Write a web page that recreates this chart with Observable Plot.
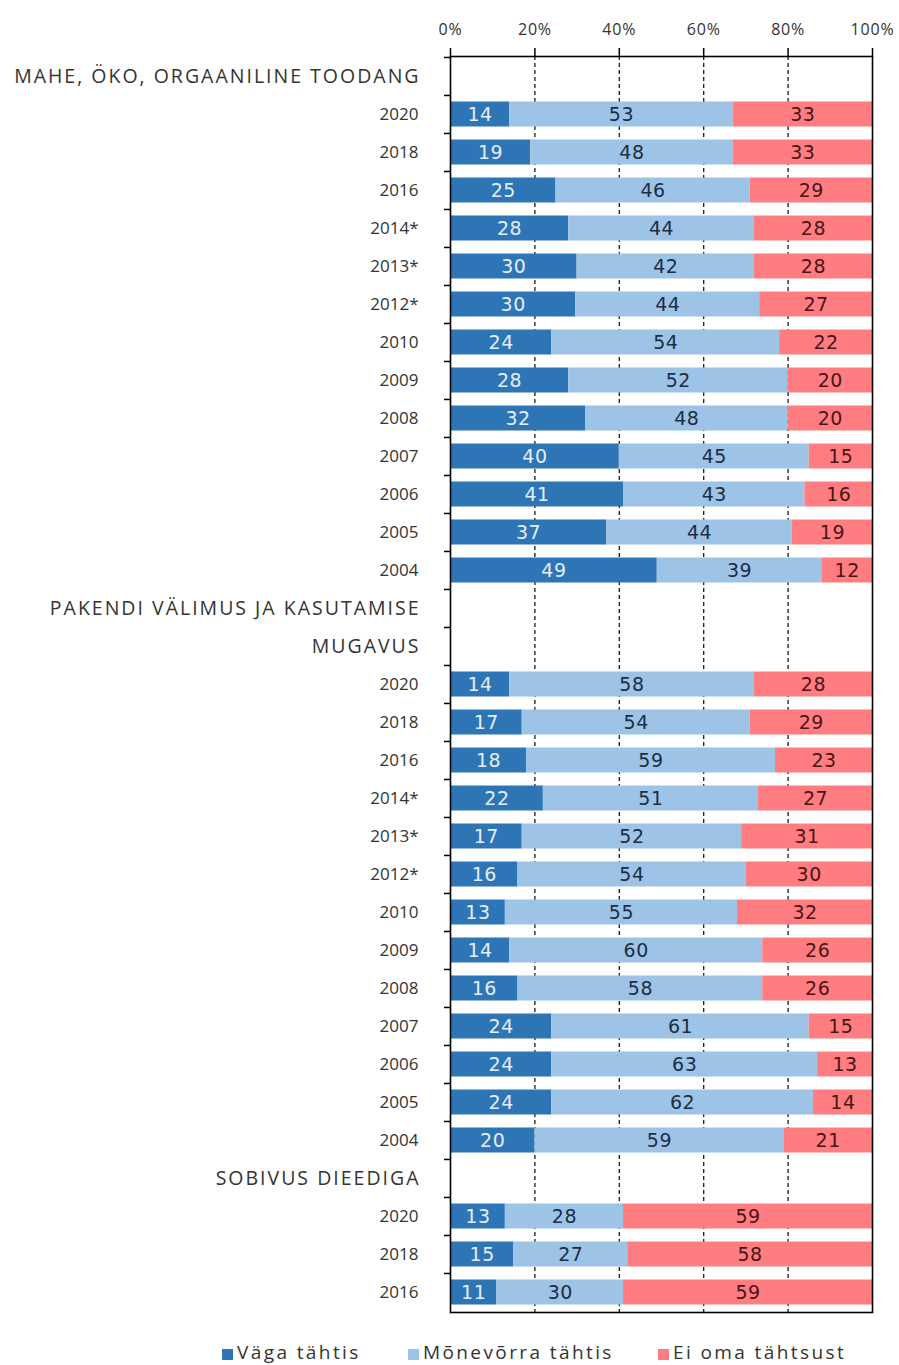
<!DOCTYPE html>
<html>
<head>
<meta charset="utf-8">
<script src="https://cdn.jsdelivr.net/npm/d3@7"></script>
<script src="https://cdn.jsdelivr.net/npm/@observablehq/plot@0.6"></script>
<style>
  body { margin: 0; background: #fff; }
  #chart svg { display: block; }
  .legend { position: relative; height: 35px; margin-top: 5px; font-family: "Open Sans", sans-serif; font-size: 19px; letter-spacing: 2.4px; color: #333; }
  .legend .item { position: absolute; top: 0; line-height: 35px; white-space: nowrap; }
  .legend .sw { display: inline-block; width: 11px; height: 11px; margin-right: 4px; vertical-align: -1px; }
</style>
</head>
<body>
<div id="chart"></div>
<div class="legend" id="legend"></div>
<script>
// ---- data ----
const seriesNames = ["Väga tähtis", "Mõnevõrra tähtis", "Ei oma tähtsust"];
const seriesColors = ["#2E75B6", "#9DC3E6", "#FF7C80"];
const labelColors = ["#e4edf8", "#1c2e44", "#4a1518"];

const xTicks = [0, 0.2, 0.4, 0.6, 0.8, 1];

const maheHeader = ["MAHE, ÖKO, ORGAANILINE TOODANG"];
const maheYears = ["2020", "2018", "2016", "2014*", "2013*", "2012*", "2010", "2009", "2008", "2007", "2006", "2005", "2004"];
const maheVaga  = [14, 19, 25, 28, 30, 30, 24, 28, 32, 40, 41, 37, 49];
const maheMonev = [53, 48, 46, 44, 42, 44, 54, 52, 48, 45, 43, 44, 39];
const maheEi    = [33, 33, 29, 28, 28, 27, 22, 20, 20, 15, 16, 19, 12];

const pakendHeader = ["PAKENDI VÄLIMUS JA KASUTAMISE", "MUGAVUS"];
const pakendYears = ["2020", "2018", "2016", "2014*", "2013*", "2012*", "2010", "2009", "2008", "2007", "2006", "2005", "2004"];
const pakendVaga  = [14, 17, 18, 22, 17, 16, 13, 14, 16, 24, 24, 24, 20];
const pakendMonev = [58, 54, 59, 51, 52, 54, 55, 60, 58, 61, 63, 62, 59];
const pakendEi    = [28, 29, 23, 27, 31, 30, 32, 26, 26, 15, 13, 14, 21];

const dieetHeader = ["SOBIVUS DIEEDIGA"];
const dieetYears = ["2020", "2018", "2016"];
const dieetVaga  = [13, 15, 11];
const dieetMonev = [28, 27, 30];
const dieetEi    = [59, 58, 59];

// ---- build rows ----
const groups = [
  {header: maheHeader, years: maheYears, vals: [maheVaga, maheMonev, maheEi]},
  {header: pakendHeader, years: pakendYears, vals: [pakendVaga, pakendMonev, pakendEi]},
  {header: dieetHeader, years: dieetYears, vals: [dieetVaga, dieetMonev, dieetEi]}
];
const rows = [];
const rowLabel = new Map();
const rowIsHeader = new Map();
const data = [];
groups.forEach((g, gi) => {
  g.header.forEach((h, hi) => {
    const k = `g${gi}|h${hi}`;
    rows.push(k); rowLabel.set(k, h); rowIsHeader.set(k, true);
  });
  g.years.forEach((yr, yi) => {
    const k = `g${gi}|${yr}`;
    rows.push(k); rowLabel.set(k, yr); rowIsHeader.set(k, false);
    seriesNames.forEach((s, si) => data.push({row: k, series: s, si, value: g.vals[si][yi]}));
  });
});
const headerTexts = new Set(groups.flatMap(g => g.header));

// ---- layout ----
const W = 899, H = 1330, mT = 56, mB = 18, mL = 450, mR = 27;
const step = (H - mT - mB) / rows.length;
const labelFont = "'Open Sans', sans-serif";

const textMarks = seriesNames.map((s, si) =>
  Plot.text(data, Plot.stackX({
    x: "value", y: "row", z: "series", offset: "normalize",
    text: d => d.series === s ? d.value : null,
    fill: labelColors[si],
    fontFamily: "'DejaVu Sans', sans-serif",
    fontSize: 19
  }))
);

const chart = Plot.plot({
  width: W, height: H,
  marginTop: mT, marginBottom: mB, marginLeft: mL, marginRight: mR,
  x: {domain: [0, 1], label: null},
  y: {domain: rows, padding: 0, label: null},
  color: {domain: seriesNames, range: seriesColors},
  marks: [
    Plot.gridX({ticks: xTicks.slice(1, -1), stroke: "#000", strokeOpacity: 0.9, strokeWidth: 1.3, strokeDasharray: "4,3"}),
    Plot.barX(data, Plot.stackX({
      x: "value", y: "row", fill: "series", offset: "normalize",
      insetTop: 6.5, insetBottom: 6.5
    })),
    ...textMarks,
    Plot.frame({stroke: "#000", strokeWidth: 1.6}),
    Plot.axisX({
      anchor: "top", ticks: xTicks, tickFormat: d3.format(".0%"),
      tickSize: 9, tickPadding: 13, fontSize: 16, fontFamily: labelFont,
      stroke: "#000", strokeWidth: 1.5, fill: "#333"
    }),
    Plot.axisY({
      ticks: rows, tickSize: 6, dy: -step / 2, stroke: "#000", strokeWidth: 1.5,
      tickFormat: () => ""
    }),
    Plot.axisY({
      ticks: rows.filter(k => !rowIsHeader.get(k)), tickSize: 0, tickPadding: 32,
      tickFormat: k => rowLabel.get(k), fontSize: 17, fontFamily: labelFont, fill: "#333"
    }),
    Plot.axisY({
      ticks: rows.filter(k => rowIsHeader.get(k)), tickSize: 0, tickPadding: 30,
      tickFormat: k => rowLabel.get(k), fontSize: 19.5, fontFamily: labelFont, fill: "#333"
    })
  ]
});
document.getElementById("chart").appendChild(chart);

// letter spacing tweaks (applied to rendered text)
d3.select(chart).selectAll("text").each(function() {
  const t = this.textContent;
  if (headerTexts.has(t)) this.setAttribute("letter-spacing", "2px");
  else if (/%$/.test(t)) this.setAttribute("letter-spacing", "0.8px");
  else if (/^\d{1,2}$/.test(t)) this.setAttribute("letter-spacing", "0.5px");
});

// ---- legend ----
const legendLeft = [222, 408, 658];
const legend = d3.select("#legend");
seriesNames.forEach((s, i) => {
  const it = legend.append("span").attr("class", "item").style("left", legendLeft[i] + "px");
  it.append("span").attr("class", "sw").style("background", seriesColors[i]);
  it.append("span").text(s);
});
</script>
</body>
</html>
